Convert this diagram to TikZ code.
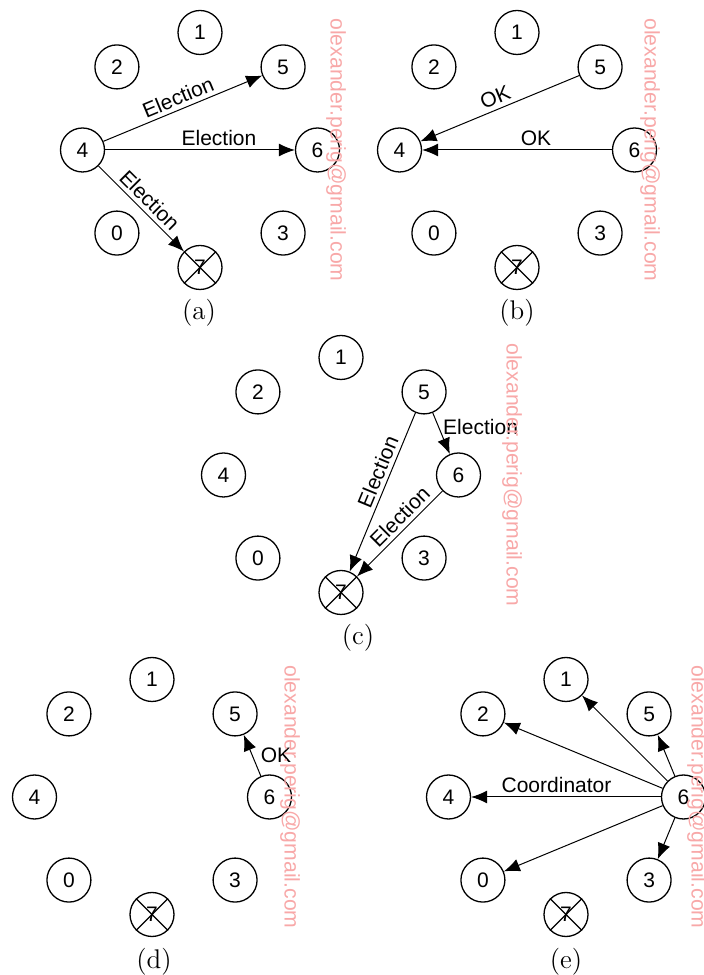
\documentclass[tikz,border=0pt]{standalone}
\usepackage{fontspec}
\newfontfamily\arialfont{Liberation Sans}
\usetikzlibrary{arrows.meta,positioning}

\definecolor{wmpink}{RGB}{248,168,168}

\tikzset{
  proc/.style={circle,draw,line width=0.65pt,minimum size=22pt,inner sep=0pt,
    font=\arialfont\fontsize{10.5}{12}\selectfont},
  msg/.style={-{Latex[length=8pt,width=6.5pt]},line width=0.5pt},
  lbl/.style={font=\arialfont\fontsize{10.5}{12}\selectfont,inner sep=2pt},
  caption/.style={font=\fontsize{13.5}{15}\selectfont},
  wmark/.style={rotate=-90,text=wmpink,font=\arialfont\fontsize{10.6}{12}\selectfont}
}

% ring of processes 0..7, process 7 crashed
\newcommand{\procring}[2]{%
  \begin{scope}[shift={#2}]
    \foreach \n/\a in {1/90,5/45,6/0,3/-45,0/-135,4/180,2/135,7/-90}
      \node[proc] (#1\n) at (\a:117.5) {\n};
    \draw[line width=0.65pt] (#17.45) -- (#17.225) (#17.135) -- (#17.315);
  \end{scope}}

\begin{document}
\begin{tikzpicture}[x=0.5pt,y=0.5pt]
  \useasboundingbox (0,0) rectangle (704,975);

  % (a)
  \procring{a}{(200,825)}
  \draw[msg] (a4) -- node[lbl,sloped,above] {Election} (a5);
  \draw[msg] (a4) -- node[lbl,pos=0.6,above] {Election} (a6);
  \draw[msg] (a4) -- node[lbl,sloped,above] {Election} (a7);
  \node[caption] (capa) at (199,662) {(a)};

  % (b)
  \procring{b}{(517,825)}
  \draw[msg] (b5) -- node[lbl,sloped,above] {OK} (b4);
  \draw[msg] (b6) -- node[lbl,pos=0.4,above] {OK} (b4);
  \node[caption] (capb) at (517,662) {(b)};

  % (c)
  \procring{c}{(341,500)}
  \draw[msg] (c5) -- node[lbl,pos=0.35,right] {Election} (c6);
  \draw[msg] (c5) -- node[lbl,pos=0.4,sloped,above] {Election} (c7);
  \draw[msg] (c6) -- node[lbl,pos=0.4,sloped,above] {Election} (c7);
  \node[caption] (capc) at (358,337) {(c)};

  % (d)
  \procring{d}{(152,178)}
  \draw[msg] (d6) -- node[lbl,right=2pt] {OK} (d5);
  \node[caption] (capd) at (154,13) {(d)};

  % (e)
  \procring{e}{(566,178)}
  \foreach \t in {1,2,5,0,3}
    \draw[msg] (e6) -- (e\t);
  \draw[msg] (e6) -- node[lbl,pos=0.55,above] {Coordinator} (e4);
  \node[caption] (cape) at (566,13) {(e)};

  % watermarks
  \node[wmark] (wma) at (336,825) {olexander.perig@gmail.com};
  \node[wmark] (wmb) at (650,825) {olexander.perig@gmail.com};
  \node[wmark] (wmc) at (512,500) {olexander.perig@gmail.com};
  \node[wmark] (wmd) at (290,178) {olexander.perig@gmail.com};
  \node[wmark] (wme) at (697,178) {olexander.perig@gmail.com};
\end{tikzpicture}
\end{document}
